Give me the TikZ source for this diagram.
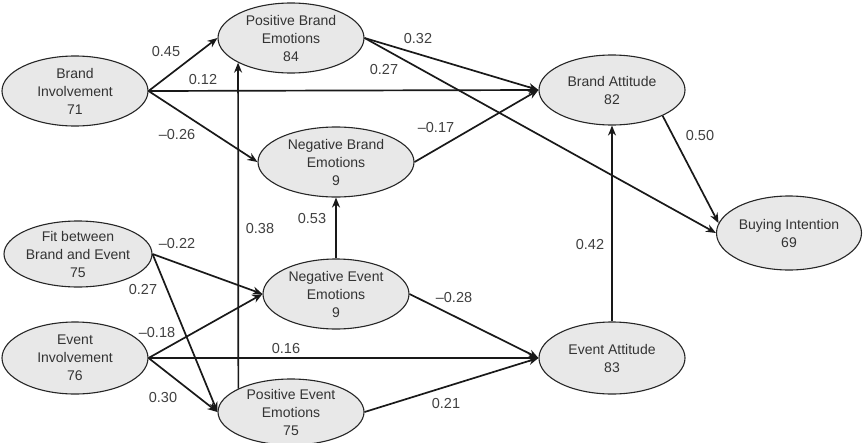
\documentclass[tikz,border=0pt]{standalone}
\usepackage{fontspec}
\setmainfont{Liberation Sans}
\usetikzlibrary{shapes.geometric,arrows.meta}
\begin{document}
\begin{tikzpicture}[x=1pt,y=-1pt,
  var/.style={ellipse,draw=black!85,line width=1.1pt,fill=black!9,inner sep=0pt,
    minimum width=146pt,minimum height=70pt,align=center,
    font=\fontsize{14}{18}\selectfont,text=black!80},
  arr/.style={line width=1.7pt,draw=black!90,-{Stealth[length=10pt,width=8pt]}},
  lab/.style={font=\fontsize{14.5}{17}\selectfont,text=black!75,inner sep=0pt}]
\useasboundingbox[fill=white] (0,0) rectangle (864,442);
% nodes
\node[var] (bi)  at (75,91)  {Brand\\Involvement\\71};
\node[var] (pbe) at (291,38) {Positive Brand\\Emotions\\84};
\node[var,minimum width=156pt] (nbe) at (336,162) {Negative Brand\\Emotions\\9};
\node[var] (ba)  at (612,90) {Brand Attitude\\82};
\node[var,minimum width=145pt,minimum height=74pt] (buy) at (789,233) {Buying Intention\\69};
\node[var,minimum width=148pt,minimum height=66pt] (fit) at (78,254) {Fit between\\Brand and Event\\75};
\node[var] (nee) at (336,294) {Negative Event\\Emotions\\9};
\node[var,minimum height=72pt] (ei)  at (75,358) {Event\\Involvement\\76};
\node[var,minimum height=66pt] (pee) at (291,412) {Positive Event\\Emotions\\75};
\node[var,minimum height=72pt] (ea)  at (612,358) {Event Attitude\\83};
% connectors
\draw[arr] (bi.east) -- (pbe.west);
\draw[arr] (bi.east) -- (ba.west);
\draw[arr] (bi.east) -- (nbe.west);
\draw[arr] (pbe.east) -- (ba.west);
\draw[arr] (pbe.east) -- (buy.west);
\draw[arr] (nbe.east) -- (ba.west);
\draw[arr] (ba.-27) -- (buy.172);
\draw[arr] (fit.east) -- (nee.west);
\draw[arr] (fit.east) -- (pee.west);
\draw[arr] (ei.east) -- (nee.west);
\draw[arr] (ei.east) -- (ea.west);
\draw[arr] (ei.east) -- (pee.west);
\draw[arr] (pee.156) -- (pbe.205);
\draw[arr] (nee.north) -- (nbe.south);
\draw[arr] (nee.east) -- (ea.west);
\draw[arr] (pee.east) -- (ea.west);
\draw[arr] (ea.north) -- (ba.south);
% labels
\node[lab] (l1)  at (166,52)  {0.45};
\node[lab] (l2)  at (203,80)  {0.12};
\node[lab] (l3)  at (177,135) {–0.26};
\node[lab] (l4)  at (418,39)  {0.32};
\node[lab] (l5)  at (384,70)  {0.27};
\node[lab] (l6)  at (436,128) {–0.17};
\node[lab] (l7)  at (700,136) {0.50};
\node[lab] (l8)  at (177,244) {–0.22};
\node[lab] (l9)  at (143,290) {0.27};
\node[lab] (l10) at (157,333) {–0.18};
\node[lab] (l11) at (286,349) {0.16};
\node[lab] (l12) at (163,398) {0.30};
\node[lab] (l13) at (260,229) {0.38};
\node[lab] (l14) at (312,219) {0.53};
\node[lab] (l15) at (454,298) {–0.28};
\node[lab] (l16) at (446,404) {0.21};
\node[lab] (l17) at (590,245) {0.42};
\end{tikzpicture}
\end{document}
